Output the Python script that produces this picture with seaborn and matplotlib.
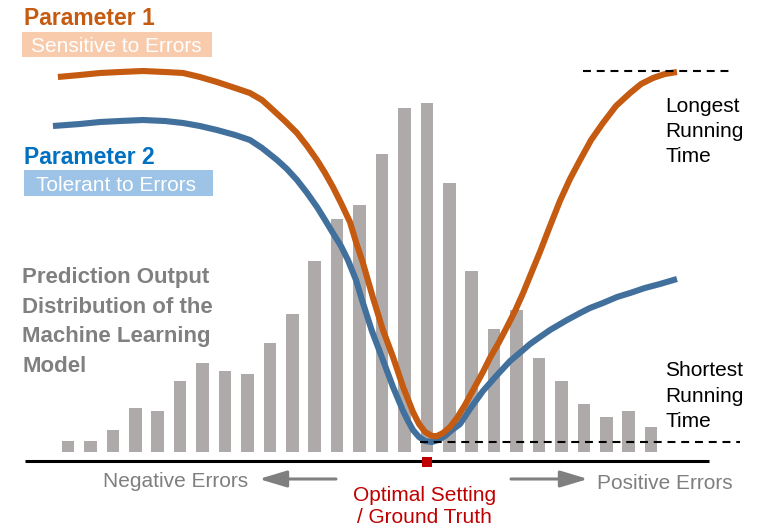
import numpy as np
import pandas as pd
import matplotlib
matplotlib.use("Agg")
import matplotlib.pyplot as plt
from matplotlib.patches import Rectangle
import seaborn as sns

# ---------------- data ----------------
# prediction-output histogram (error bins, optimal setting at bin 16)
bins = list(range(27))
counts = [11, 11, 22, 44, 41, 71, 89, 81, 78, 109, 138, 191, 233, 247, 298,
          344, 349, 269, 181, 123, 142, 94, 71, 48, 35, 41, 25]
optimal_bin = 16

# running-time curves (x in bin units, y in arbitrary time units)
p1_x = [-0.45, 0.53, 1.43, 2.32, 3.34, 4.32, 5.13, 5.88, 6.64, 7.45,
        8.11, 8.65, 9.14, 9.67, 10.21, 10.66, 11.10, 11.46, 11.81, 12.17,
        12.57, 12.84, 13.15, 13.60, 14.04, 14.49, 14.94, 15.38, 15.65, 15.92,
        16.23, 16.45, 16.72, 17.03, 17.34, 17.70, 18.06, 18.50, 18.81, 19.22,
        19.57, 19.93, 20.29, 20.60, 21.04, 21.49, 21.93, 22.38, 22.83, 23.32,
        23.85, 24.43, 25.06, 25.55, 26.08, 26.61, 27.15]
p1_y = [375, 377, 379, 380, 381, 380, 379, 375, 370, 364,
        359, 352, 342, 331, 319, 306, 292, 279, 265, 249,
        230, 210, 189, 154, 122, 95, 65, 40, 28, 20,
        16, 16, 19, 25, 34, 47, 62, 80, 94, 110,
        125, 141, 159, 176, 200, 226, 251, 273, 292, 312,
        329, 346, 359, 368, 374, 378, 380]

p2_x = [-0.67, 0.53, 1.43, 2.32, 3.34, 4.32, 5.13, 5.88, 6.64, 7.45,
        8.11, 8.65, 9.32, 9.76, 10.21, 10.66, 11.10, 11.46, 11.81, 12.17,
        12.48, 12.84, 13.15, 13.55, 14.04, 14.49, 14.94, 15.16, 15.38, 15.65,
        15.92, 16.23, 16.50, 16.81, 17.12, 17.48, 17.92, 18.50, 19.13, 19.71,
        20.29, 20.60, 21.04, 21.49, 22.25, 22.83, 23.27, 23.85, 24.48, 25.06,
        25.72, 26.39, 27.15]
p2_y = [326, 328, 330, 331, 332, 331, 329, 326, 322, 317,
        312, 304, 292, 283, 272, 259, 245, 232, 219, 206,
        192, 172, 149, 121, 92, 65, 41, 31, 22, 15,
        11, 10, 12, 16, 22, 28, 43, 61, 77, 91,
        102, 108, 115, 122, 132, 139, 144, 149, 155, 159,
        164, 168, 173]

# ---------------- figure ----------------
W, H = 781, 529
sns.set_theme(style="white")
plt.rcParams["font.family"] = ["Liberation Sans", "DejaVu Sans"]

fig = plt.figure(figsize=(W / 100, H / 100), dpi=100)
ax = fig.add_axes([0, 0, 1, 1])

bar_df = pd.DataFrame({"bin": bins, "count": counts})
sns.barplot(data=bar_df, x="bin", y="count", color="#AEAAAA", saturation=1,
            width=0.56, ax=ax, linewidth=0)

line_kw = dict(linewidth=4.4, sort=False, estimator=None, ax=ax,
               solid_capstyle="butt", solid_joinstyle="round")
sns.lineplot(x=p2_x, y=p2_y, color="#41709C", **line_kw)
sns.lineplot(x=p1_x, y=p1_y, color="#C55A11", **line_kw)

# pixel <-> data mapping of the layout
x0_px, step_px, base_px = 68.0, 22.43, 452.0
ax.set_xlim(-x0_px / step_px, (W - x0_px) / step_px)
ax.set_ylim(base_px - H, base_px)
ax.set_axis_off()

def kx(px):
    return (px - x0_px) / step_px

def vy(py):
    return base_px - py

# reference lines at longest / shortest running time
ax.plot([kx(583), kx(733)], [max(p1_y), max(p1_y)], color="black", lw=1.5,
        dashes=(3.8, 2.8), zorder=5)
ax.plot([kx(420), kx(740)], [min(p2_y), min(p2_y)], color="black", lw=1.5,
        dashes=(3.8, 2.8), zorder=5)

# error axis
ax.plot([kx(25), kx(709)], [vy(460.7), vy(460.7)], color="black", lw=2.2,
        solid_capstyle="butt", zorder=5)
ax.plot([optimal_bin], [vy(461.5)], marker="s", markersize=7.2,
        color="#C00000", markeredgewidth=0, zorder=6)

arrow_kw = dict(arrowstyle="-|>,head_length=1.4,head_width=0.42",
                color="#7F7F7F", lw=2.2, mutation_scale=12,
                shrinkA=0, shrinkB=0)
ax.annotate("", xy=(kx(259), vy(479)), xytext=(kx(336), vy(479)),
            arrowprops=arrow_kw)
ax.annotate("", xy=(kx(588), vy(479)), xytext=(kx(511), vy(479)),
            arrowprops=arrow_kw)

# ---------------- texts ----------------
def ftext(x, y, s, **kw):
    fig.text(x / W, 1 - y / H, s, va="baseline", **kw)

ftext(24, 25, "Parameter 1", fontsize=16.5, fontweight="bold", color="#C55A11")
fig.patches.append(Rectangle((22 / W, 1 - 57 / H), 190 / W, 25 / H,
                             transform=fig.transFigure, facecolor="#F8CBAD",
                             edgecolor="none"))
ftext(31, 52, "Sensitive to Errors", fontsize=15, color="white")

ftext(24, 164, "Parameter 2", fontsize=16.5, fontweight="bold", color="#0070C0")
fig.patches.append(Rectangle((24 / W, 1 - 196 / H), 189 / W, 26 / H,
                             transform=fig.transFigure, facecolor="#9DC3E6",
                             edgecolor="none"))
ftext(36, 191, "Tolerant to Errors", fontsize=15, color="white")

for i, line in enumerate(["Prediction Output", "Distribution of the",
                          "Machine Learning", "Model"]):
    ftext(22, 283 + 29.7 * i, line, fontsize=16, fontweight="bold",
          color="#808080")

for i, line in enumerate(["Longest", "Running", "Time"]):
    ftext(665, 112 + 25 * i, line, fontsize=15, color="black")
for i, line in enumerate(["Shortest", "Running", "Time"]):
    ftext(665, 376 + 25.5 * i, line, fontsize=15, color="black")

ftext(103, 487, "Negative Errors", fontsize=15, color="#7F7F7F")
ftext(597, 489, "Positive Errors", fontsize=15, color="#7F7F7F")
ftext(424.5, 501, "Optimal Setting", fontsize=15, color="#C00000", ha="center")
ftext(424.5, 523, "/ Ground Truth", fontsize=15, color="#C00000", ha="center")

fig.savefig("out.png", dpi=100)
